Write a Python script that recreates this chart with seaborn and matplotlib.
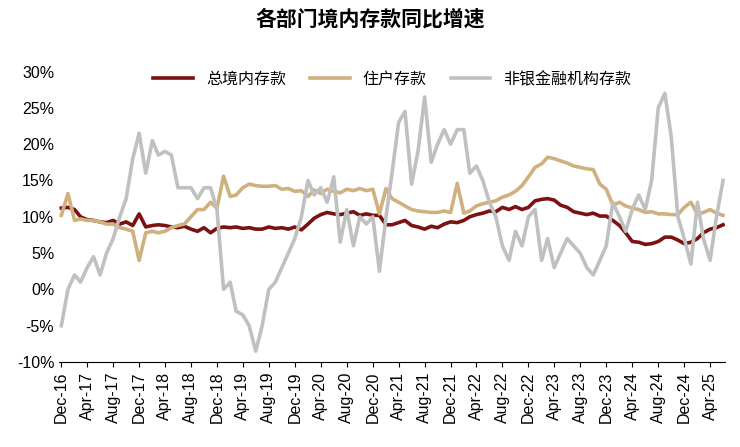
import matplotlib
matplotlib.use("Agg")
import matplotlib.pyplot as plt
import seaborn as sns
import pandas as pd
import numpy as np

plt.rcParams["font.family"] = ["Liberation Sans", "Noto Sans CJK SC"]

total = [11.2,
 11.3,11.0,10.0,9.6,9.5,9.3,9.2,9.5,9.0,9.3,8.8,10.4,
 8.6,8.8,8.9,8.8,8.6,8.5,8.7,8.3,8.0,8.5,7.8,8.4,
 8.6,8.5,8.6,8.4,8.5,8.3,8.3,8.6,8.4,8.5,8.3,8.6,
 8.2,9.0,9.8,10.3,10.6,10.4,10.3,10.5,10.7,10.2,10.4,10.2,
 10.2,8.9,8.9,9.2,9.5,8.8,8.6,8.3,8.7,8.5,9.0,9.3,
 9.2,9.5,10.0,10.3,10.5,10.8,10.7,11.3,11.0,11.4,11.0,11.3,
 12.2,12.4,12.5,12.3,11.6,11.3,10.7,10.5,10.3,10.5,10.1,10.1,
 9.5,8.8,7.8,6.6,6.5,6.2,6.3,6.6,7.2,7.2,6.8,6.3,
 6.5,7.0,7.8,8.3,8.5,8.9]
household = [10.2,
 13.2,9.5,9.7,9.5,9.5,9.3,9.0,9.0,8.5,8.3,8.0,4.0,
 7.8,8.0,7.8,8.0,8.5,8.8,9.0,10.0,11.0,11.0,12.0,11.2,
 15.6,12.8,13.0,14.0,14.5,14.3,14.2,14.2,14.3,13.8,13.9,13.5,
 13.6,12.8,13.7,13.2,13.8,13.5,13.3,13.8,13.6,13.9,13.6,13.8,
 10.4,13.9,12.5,12.0,11.5,11.0,10.8,10.7,10.6,10.6,10.8,10.6,
 14.6,10.5,10.8,11.5,11.8,12.0,12.2,12.7,13.0,13.5,14.3,15.5,
 16.8,17.3,18.2,18.0,17.7,17.4,17.0,16.8,16.6,16.5,14.5,13.8,
 11.6,12.0,11.5,11.2,11.0,10.6,10.7,10.4,10.4,10.3,10.3,11.3,
 12.0,10.4,10.6,11.0,10.5,10.2]
nonbank = [-5,
 0,2,1,3,4.5,2,5,7,10,12.5,18,21.5,
 16,20.5,18.5,19,18.5,14,14,14,12.5,14,14,11,
 0,1,-3,-3.5,-5,-8.5,-5,0,1,3,5,7,
 10,15,13,14,12,15.5,6.5,11,6,10,9,10,
 2.5,10,16,23,24.5,14.5,19,26.5,17.5,20,22,20,
 22,22,16,17,15,12,10,6,4,8,6,10,
 11,4,7,3,5,7,6,5,3,2,4,6,
 12,10,8,11,13,11,15,25,27,21,10,7,
 3.5,12,7,4,10,15]

dates = pd.date_range("2016-12-01", periods=len(total), freq="MS")
names = ["总境内存款", "住户存款", "非银金融机构存款"]
df = pd.DataFrame({"date": dates, names[0]: total, names[1]: household, names[2]: nonbank})
long = df.melt("date", var_name="series", value_name="v")

fig, ax = plt.subplots(figsize=(7.4, 4.47), dpi=100)
sns.lineplot(data=long, x="date", y="v", hue="series", hue_order=names,
             palette=["#7a1214", "#cfb07f", "#c0c0c0"], linewidth=2.6, ax=ax)
ax.set_ylim(-10, 30)
ax.set_yticks(range(-10, 31, 5))
ax.set_yticklabels([f"{t}%" for t in range(-10, 31, 5)], fontsize=11.5)
ticks = pd.date_range("2016-12-01", "2025-04-01", freq="4MS")
ax.set_xticks(ticks)
ax.set_xticklabels([d.strftime("%b-%y") for d in ticks], rotation=90, fontsize=11.5)
ax.set_xlim(dates[0] - pd.Timedelta(days=10), dates[-1] + pd.Timedelta(days=10))
ax.set_xlabel(""); ax.set_ylabel("")
for s in ["top", "right", "left"]:
    ax.spines[s].set_visible(False)
ax.tick_params(axis="y", length=0)
ax.legend(loc="upper center", bbox_to_anchor=(0.5, 1.05), ncol=3, frameon=False,
          fontsize=11.5, handlelength=2.5, columnspacing=1.5)
fig.suptitle("各部门境内存款同比增速", fontsize=15, fontweight="bold", y=0.98)
fig.subplots_adjust(left=0.08, right=0.98, top=0.84, bottom=0.19)
fig.savefig("out.png")
